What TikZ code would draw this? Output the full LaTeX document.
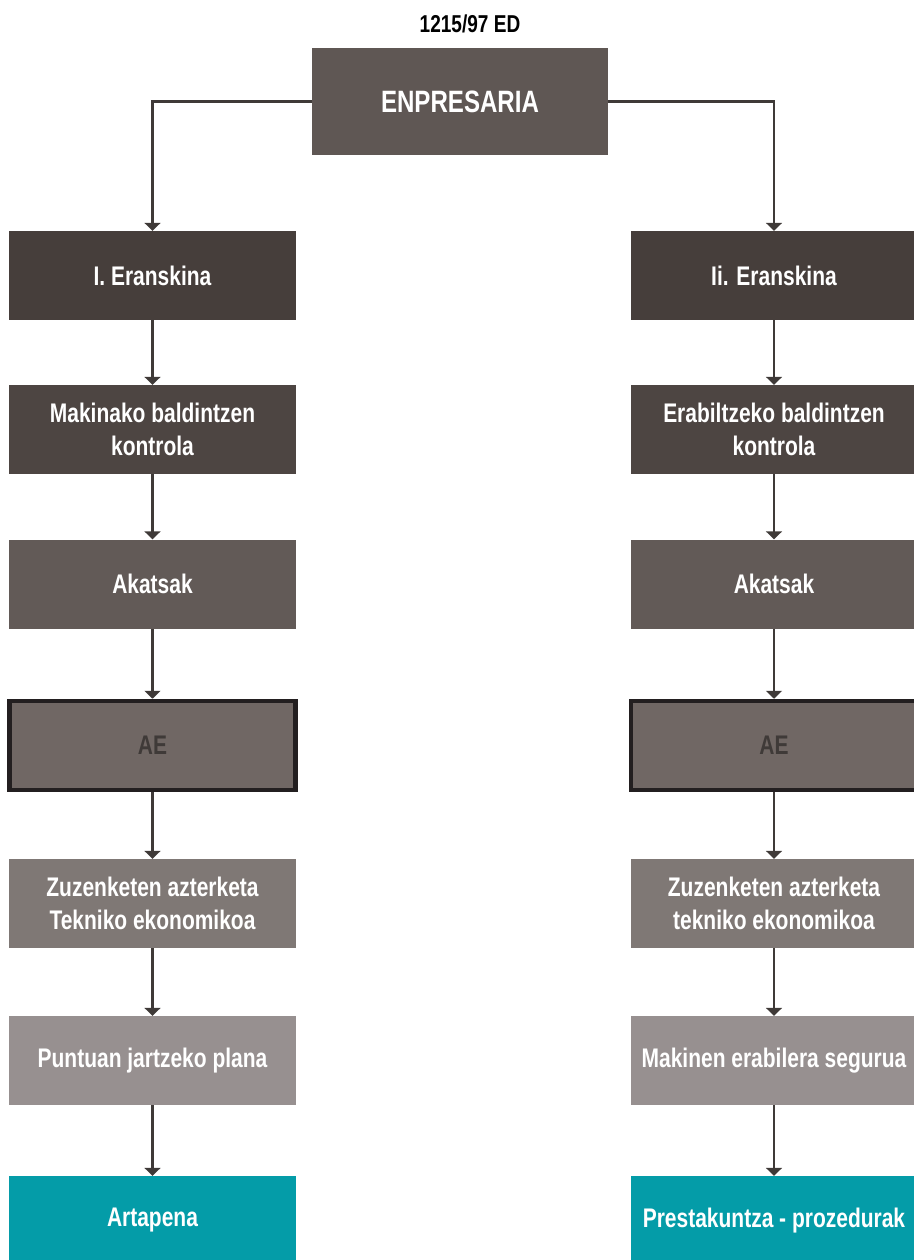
\documentclass[tikz,border=0pt]{standalone}
\usepackage{fontspec}
\setmainfont{Liberation Sans}[FakeStretch=0.78]
\usetikzlibrary{arrows.meta}
\definecolor{boxA}{HTML}{463E3B}
\definecolor{boxB}{HTML}{4D4542}
\definecolor{boxC}{HTML}{625A57}
\definecolor{boxTop}{HTML}{5F5754}
\definecolor{boxAE}{HTML}{706764}
\definecolor{boxD}{HTML}{7F7875}
\definecolor{boxE}{HTML}{979090}
\definecolor{boxF}{HTML}{049CA8}
\definecolor{lineC}{HTML}{3F3A38}
\definecolor{rimC}{HTML}{231F20}
\begin{document}
\begin{tikzpicture}[x=1bp, y=-1bp,
  stage/.style={minimum width=287bp, minimum height=89bp, inner sep=0pt,
    text=white, align=center, font=\bfseries\fontsize{27}{33}\selectfont},
  aebox/.style={stage, fill=boxAE, draw=rimC, line width=4.5bp, text=lineC,
    minimum width=286bp, minimum height=89bp},
  arr/.style={draw=lineC, line width=2.1bp, -{Triangle[width=16bp,length=8bp]}}]
\useasboundingbox (0,0) rectangle (914,1260);

\node (title) at (470,24) {\bfseries\fontsize{24.5}{28}\selectfont 1215/97 ED};
\node[stage, fill=boxTop, minimum width=296bp, minimum height=107bp,
  font=\bfseries\fontsize{31}{36}\selectfont] (enp) at (460,101.5) {ENPRESARIA};

\node[stage, fill=boxA] (l1) at (152.5,275.5) {I. Eranskina};
\node[stage, fill=boxB] (l2) at (152.5,429.5) {Makinako baldintzen\\kontrola};
\node[stage, fill=boxC] (l3) at (152.5,584) {Akatsak};
\node[aebox] (l4) at (152.5,745.5) {AE};
\node[stage, fill=boxD] (l5) at (152.5,903.5) {Zuzenketen azterketa\\Tekniko ekonomikoa};
\node[stage, fill=boxE] (l6) at (152.5,1060.5) {Puntuan jartzeko plana};
\node[stage, fill=boxF] (l7) at (152.5,1220.5) {Artapena};

\node[stage, fill=boxA] (r1) at (774,275.5) {Ii. Eranskina};
\node[stage, fill=boxB] (r2) at (774,429.5) {Erabiltzeko baldintzen\\kontrola};
\node[stage, fill=boxC] (r3) at (774,584) {Akatsak};
\node[aebox] (r4) at (774,745.5) {AE};
\node[stage, fill=boxD] (r5) at (774,903.5) {Zuzenketen azterketa\\tekniko ekonomikoa};
\node[stage, fill=boxE] (r6) at (774,1060.5) {Makinen erabilera segurua};
\node[stage, fill=boxF] (r7) at (774,1220.5) {Prestakuntza - prozedurak};

\draw[arr] (enp.west) -| (l1.north);
\draw[arr] (enp.east) -| (r1.north);
\foreach \a/\b in {1/2,2/3,3/4,4/5,5/6,6/7} {
  \draw[arr] (l\a.south) -- (l\b.north);
  \draw[arr] (r\a.south) -- (r\b.north);
}
\end{tikzpicture}
\end{document}
